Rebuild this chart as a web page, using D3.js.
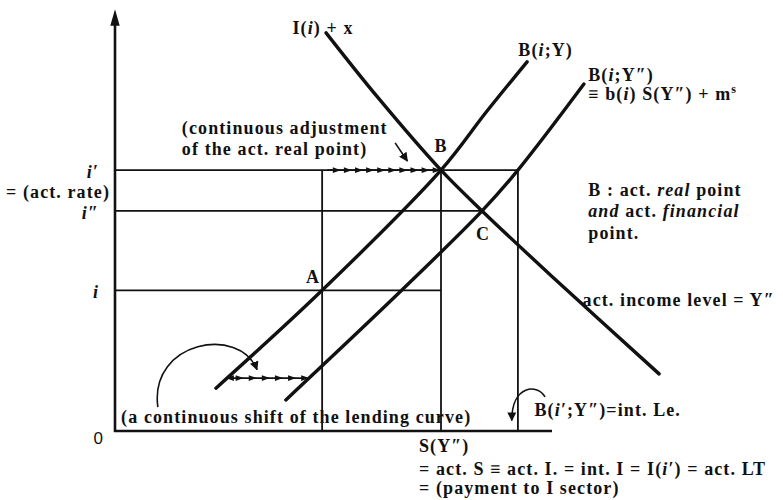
<!DOCTYPE html>
<html>
<head>
<meta charset="utf-8">
<script src="https://cdn.jsdelivr.net/npm/d3@7"></script>
<style>
  html, body { margin: 0; padding: 0; background: #fff; }
  svg { display: block; }
  text { font-family: "Liberation Serif", "Times New Roman", Times, serif; font-weight: bold; font-size: 18px; fill: #111; letter-spacing: 1.1px; }
  .it { font-style: italic; }
</style>
</head>
<body>
<svg id="chart" width="783" height="500"></svg>
<script>
// ---- data (abstract units: quantity 0..100, interest rate 0..100) ----
const rateLabels = ["i′", "i″", "i"];
const rateValues = [62.1, 52.4, 33.5];
const rateLineEnds = [92.2, 84.0, 74.6];
const quantityMarks = [47.4, 74.6, 92.2];           // verticals up to i′
const investCurve = [[48.3, 94.8], [60.0, 79.6], [74.6, 62.1], [84.0, 52.4], [100.0, 36.8], [124.5, 13.6]];   // I(i) + x
const lendCurveY = [[23.1, 10.2], [47.4, 33.5], [74.6, 62.1], [85.0, 76.0], [94.3, 87.9]];                    // B(i;Y)
const lendCurveY2 = [[39.1, 7.4], [65.6, 33.5], [84.0, 52.4], [92.2, 62.1], [107.3, 82.6]];                   // B(i;Y″)
const adjustRange = [48.6, 74.0];    // arrows along i′ (continuous adjustment)
const shiftLevel = 12.6;             // arrows of the lending-curve shift
const shiftRange = [25.9, 43.9];

const svg = d3.select("#chart");
const x = d3.scaleLinear().domain([0, 100]).range([115, 552]);
const y = d3.scaleLinear().domain([0, 100]).range([431, 11]);

const ink = "#111";

// ---- grid (rate levels and quantity verticals) ----
svg.selectAll(".hline").data(rateValues).enter().append("line")
  .attr("x1", x(0)).attr("x2", (d, k) => x(rateLineEnds[k]))
  .attr("y1", d => y(d)).attr("y2", d => y(d))
  .attr("stroke", ink).attr("stroke-width", 1.8);
svg.selectAll(".vline").data(quantityMarks).enter().append("line")
  .attr("x1", d => x(d)).attr("x2", d => x(d))
  .attr("y1", y(0)).attr("y2", y(rateValues[0]))
  .attr("stroke", ink).attr("stroke-width", 1.8);

// ---- axes ----
svg.append("line").attr("x1", x(0)).attr("x2", x(0)).attr("y1", y(0) + 1).attr("y2", y(97.5))
  .attr("stroke", ink).attr("stroke-width", 2.6);
svg.append("path").attr("d", d3.symbol(d3.symbolTriangle, 60)())
  .attr("transform", `translate(${x(0)},${y(97.8)}) scale(0.8,1.6)`).attr("fill", ink);
svg.append("line").attr("x1", x(0) - 1).attr("x2", x(100)).attr("y1", y(0)).attr("y2", y(0))
  .attr("stroke", ink).attr("stroke-width", 2.6);

// ---- curves ----
const line = d3.line().x(d => x(d[0])).y(d => y(d[1])).curve(d3.curveCatmullRom.alpha(0.5));
[investCurve, lendCurveY, lendCurveY2].forEach(c => {
  svg.append("path").attr("d", line(c)).attr("fill", "none")
    .attr("stroke", ink).attr("stroke-width", 3.4).attr("stroke-linecap", "round");
});

// ---- arrow chains ----
function arrowChain(x0, x1, level, n) {
  svg.append("line").attr("x1", x(x0)).attr("x2", x(x1)).attr("y1", y(level)).attr("y2", y(level))
    .attr("stroke", ink).attr("stroke-width", 1.8);
  const step = (x1 - x0) / n;
  d3.range(n).forEach(k => {
    svg.append("path").attr("d", d3.symbol(d3.symbolTriangle, 22)())
      .attr("transform", `translate(${x(x0 + step * (k + 1)) - 3},${y(level)}) rotate(90) scale(0.8,1.3)`)
      .attr("fill", ink);
  });
}
arrowChain(adjustRange[0], adjustRange[1], rateValues[0], 10);
arrowChain(shiftRange[0], shiftRange[1], shiftLevel, 6);
svg.append("path").attr("d", d3.symbol(d3.symbolTriangle, 22)())
  .attr("transform", `translate(${x(shiftRange[0]) + 3},${y(shiftLevel)}) rotate(-90) scale(0.8,1.3)`).attr("fill", ink);

// arrow markers
const defs = svg.append("defs");
defs.append("marker").attr("id", "ah").attr("viewBox", "0 0 10 10").attr("refX", 9).attr("refY", 5)
  .attr("markerWidth", 9).attr("markerHeight", 9).attr("orient", "auto").attr("markerUnits", "userSpaceOnUse")
  .append("path").attr("d", "M0,0 L10,5 L0,10 Z").attr("fill", ink);

// small straight arrow pointing to the adjustment
svg.append("line").attr("x1", x(64.1)).attr("y1", y(68.6)).attr("x2", x(66.9)).attr("y2", y(64.3))
  .attr("stroke", ink).attr("stroke-width", 1.6).attr("marker-end", "url(#ah)");

// big curved arrow (continuous shift)
const p = d3.path();
p.moveTo(x(9.8), y(5.7));
p.bezierCurveTo(x(7.8), y(21.5), x(28.6), y(25.2), x(32.5), y(14.6));
svg.append("path").attr("d", p.toString()).attr("fill", "none").attr("stroke", ink)
  .attr("stroke-width", 1.6).attr("marker-end", "url(#ah)");

// small curved arrow near B(i′;Y″)
const q = d3.path();
q.moveTo(x(98.4), y(8.1));
q.bezierCurveTo(x(96.8), y(11.2), x(90.8), y(11.2), x(90.8), y(2.5));
svg.append("path").attr("d", q.toString()).attr("fill", "none").attr("stroke", ink)
  .attr("stroke-width", 1.6).attr("marker-end", "url(#ah)");

// ---- text helpers ----
function label(px, py, parts, anchor) {
  const t = svg.append("text").attr("x", px).attr("y", py).attr("text-anchor", anchor || "start");
  parts.forEach(pt => {
    if (typeof pt === "string") t.append("tspan").text(pt);
    else {
      const s = t.append("tspan").text(pt.t);
      if (pt.it) s.attr("class", "it");
      if (pt.sup) s.attr("dy", -7).attr("font-size", 12);
    }
  });
  return t;
}

// y-axis tick labels
rateLabels.forEach((lab, k) => {
  svg.append("text").attr("x", x(0) - 16).attr("y", y(rateValues[k]) + 8)
    .attr("text-anchor", "end").attr("class", "it").text(lab);
});
label(x(0) - 5, y(rateValues[0]) + 28, ["= (act. rate)"], "end");
svg.append("text").attr("x", x(0) - 12).attr("y", y(0) + 13).attr("text-anchor", "end")
  .style("font-family", "'Liberation Sans', Arial, sans-serif").style("font-weight", "normal")
  .style("font-size", "17px").style("letter-spacing", "0").text("0");

// x tick label and explanation
label(x(quantityMarks[1]) - 22, y(0) + 21, ["S(Y″)"]);
label(x(quantityMarks[1]) - 22, y(0) + 44, ["= act. S ≡ act. I. = int. I = I(", {t: "i′", it: true}, ") = act. LT"]);
label(x(quantityMarks[1]) - 22, y(0) + 63, ["= (payment to I sector)"]);

// curve labels
label(x(40.6), y(94.6), ["I(", {t: "i", it: true}, ") + x"]);
label(x(92.3), y(89.2), ["B(", {t: "i", it: true}, ";Y)"]);
label(x(108.3), y(83.4), ["B(", {t: "i", it: true}, ";Y″)"]);
label(x(108.3), y(78.9), ["≡ b(", {t: "i", it: true}, ") S(Y″) + m", {t: "s", sup: true}]);

// points
label(x(quantityMarks[1]), y(rateValues[0]) - 18, ["B"], "middle");
label(x(rateLineEnds[1]) + 1, y(rateValues[1]) + 29, ["C"], "middle");
label(x(quantityMarks[0]) - 2, y(rateValues[2]) - 7, ["A"], "end");

// annotations
label(x(15.3), y(70.7), ["(continuous adjustment"]);
label(x(15.3), y(65.7), ["of the act. real point)"]);
label(x(108.3), y(56.0), ["B : act. ", {t: "real", it: true}, " point"]);
label(x(108.3), y(51.0), [{t: "and", it: true}, " act. ", {t: "financial", it: true}]);
label(x(108.3), y(45.8), ["point."]);
label(x(107.0), y(29.8), ["act. income level = Y″"]);
label(x(1.4), y(1.9), ["(a continuous shift of the lending curve)"]);
label(x(96.0), y(3.6), ["B(", {t: "i′", it: true}, ";Y″)=int. Le."]);
</script>
</body>
</html>
